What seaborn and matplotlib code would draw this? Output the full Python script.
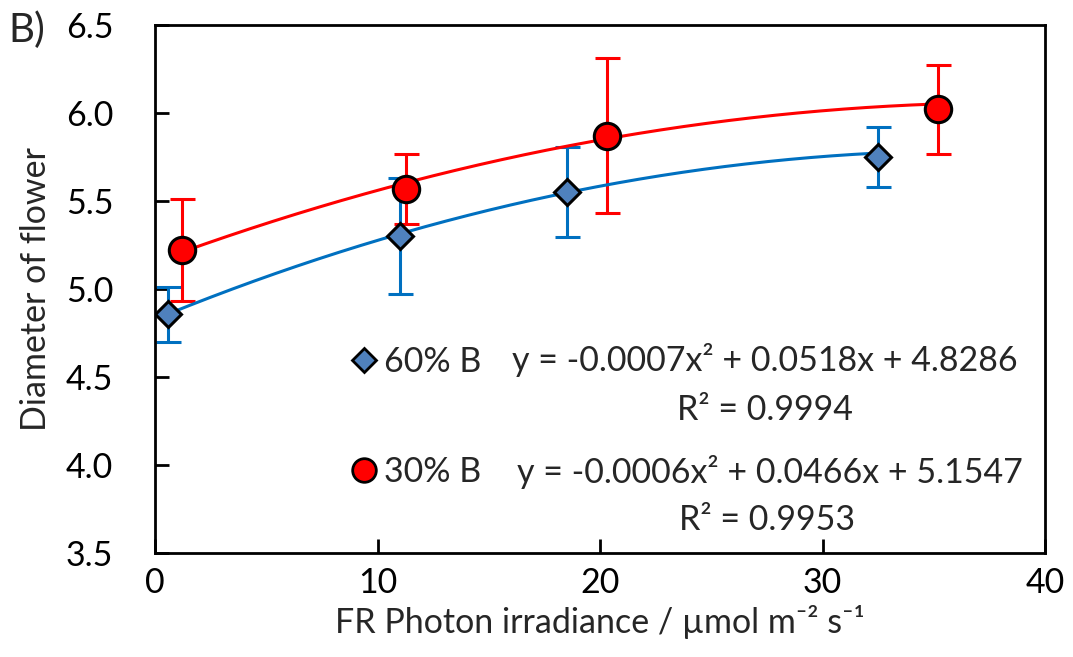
import numpy as np
import pandas as pd
import matplotlib
matplotlib.use("Agg")
import matplotlib.pyplot as plt
import seaborn as sns
from matplotlib.lines import Line2D

# ---- data ----
x_60 = [0.6, 11.0, 18.5, 32.5]
y_60 = [4.856, 5.30, 5.55, 5.752]
err_60 = [0.155, 0.33, 0.255, 0.17]

x_30 = [1.2, 11.3, 20.3, 35.2]
y_30 = [5.22, 5.57, 5.87, 6.02]
err_30 = [0.29, 0.20, 0.44, 0.25]

coef_60 = [-0.0007, 0.0518, 4.8286]
coef_30 = [-0.0006, 0.0466, 5.1547]
r2_60 = "0.9994"
r2_30 = "0.9953"

series_labels = ["60% B", "30% B"]
xticks = [0, 10, 20, 30, 40]
yticks = [3.5, 4.0, 4.5, 5.0, 5.5, 6.0, 6.5]

sns.set_style("white")
plt.rcParams['font.family'] = ['Lato', 'DejaVu Sans']

BLUE_FILL = "#4F81BD"
BLUE_LINE = "#0070C0"
RED = "#FF0000"
FS = 24.5

fig = plt.figure(figsize=(10.73, 6.57), dpi=100)
ax = fig.add_axes([0.1445, 0.158, 0.8295, 0.804])

# trend lines
xs60 = np.linspace(min(x_60), max(x_60), 200)
xs30 = np.linspace(min(x_30), max(x_30), 200)
df60 = pd.DataFrame({"x": xs60, "y": np.polyval(coef_60, xs60)})
df30 = pd.DataFrame({"x": xs30, "y": np.polyval(coef_30, xs30)})

# error bars
ax.errorbar(x_60, y_60, yerr=err_60, fmt="none", ecolor=BLUE_LINE,
            elinewidth=2.2, capsize=9, capthick=2.2, zorder=2)
ax.errorbar(x_30, y_30, yerr=err_30, fmt="none", ecolor=RED,
            elinewidth=2.2, capsize=9, capthick=2.2, zorder=2)

sns.lineplot(data=df60, x="x", y="y", ax=ax, color=BLUE_LINE, linewidth=2.2, zorder=3)
sns.lineplot(data=df30, x="x", y="y", ax=ax, color=RED, linewidth=2.2, zorder=3)

ax.plot(x_60, y_60, linestyle="none", marker="D", markersize=13,
        markerfacecolor=BLUE_FILL, markeredgecolor="black", markeredgewidth=2.2, zorder=4)
ax.plot(x_30, y_30, linestyle="none", marker="o", markersize=19,
        markerfacecolor=RED, markeredgecolor="black", markeredgewidth=2.2, zorder=4)

ax.set_xlim(0, 40)
ax.set_ylim(3.5, 6.5)
ax.set_xticks(xticks)
ax.set_yticks(yticks)
ax.set_xticklabels([str(t) for t in xticks])
ax.set_yticklabels([f"{t:.1f}" for t in yticks])
ax.tick_params(axis="both", direction="in", length=10, width=2, labelsize=FS,
               colors="black", left=True, bottom=True)
ax.tick_params(axis="y", pad=30)
ax.tick_params(axis="x", pad=10)
for s in ax.spines.values():
    s.set_visible(True)
    s.set_color("black")
    s.set_linewidth(2)

ax.set_xlabel("FR Photon irradiance / µmol m⁻² s⁻¹", fontsize=FS, labelpad=4)
ax.set_ylabel("Diameter of flower", fontsize=FS, labelpad=10)

# legend
handles = [
    Line2D([], [], linestyle="none", marker="D", markersize=12, markerfacecolor=BLUE_FILL,
           markeredgecolor="black", markeredgewidth=2),
    Line2D([], [], linestyle="none", marker="o", markersize=17, markerfacecolor=RED,
           markeredgecolor="black", markeredgewidth=2),
]
leg = ax.legend(handles, series_labels, loc="upper left",
                bbox_to_anchor=(352 / 1073, 1 - 346 / 657), bbox_transform=fig.transFigure,
                frameon=False, fontsize=FS, handlelength=0.7, handletextpad=0.25,
                labelspacing=2.3, borderaxespad=0, borderpad=0)

def eq(c):
    return f"y = {c[0]:.4f}x² + {c[1]:.4f}x + {c[2]:.4f}"

fig.text(765 / 1073, 1 - 360 / 657, eq(coef_60), fontsize=FS, ha="center", va="center")
fig.text(765 / 1073, 1 - 410 / 657, f"R² = {r2_60}", fontsize=FS, ha="center", va="center")
fig.text(770 / 1073, 1 - 472 / 657, eq(coef_30), fontsize=FS, ha="center", va="center")
fig.text(767 / 1073, 1 - 520 / 657, f"R² = {r2_30}", fontsize=FS, ha="center", va="center")

fig.text(8 / 1073, 1 - 30 / 657, "B)", fontsize=29, ha="left", va="center")

fig.savefig("out.png", dpi=100)
